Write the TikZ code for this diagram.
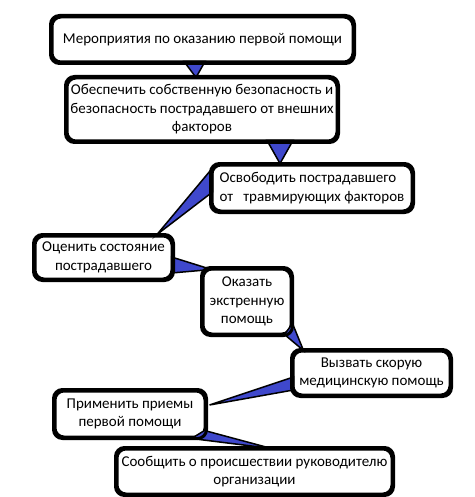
\documentclass[tikz,border=0pt]{standalone}
\usepackage{fontspec}
\setmainfont{Carlito}
\usetikzlibrary{calc}
\definecolor{wedgeblue}{HTML}{3F48CC}
\begin{document}
\begin{tikzpicture}[x=1pt,y=-1pt,
  box/.style={draw=black, line width=3pt, fill=white, rounded corners=9pt,
    inner sep=0pt, align=center, font=\fontsize{15}{18.5}\selectfont},
  wedge/.style={draw=black, line width=1.5pt, fill=wedgeblue, line join=miter}]
\useasboundingbox (0,0) rectangle (474,497);
\node[box, minimum width=301pt, minimum height=45pt] (b1) at (202.5,39.5) {Мероприятия по оказанию первой помощи};
\node[box, minimum width=270pt, minimum height=63pt] (b2) at (202,109.5) {Обеспечить собственную безопасность и\\безопасность пострадавшего от внешних\\факторов};
\node[box, minimum width=200pt, minimum height=46pt, align=left] (b3) at (312,188) {Освободить пострадавшего\\от\ \ \ травмирующих факторов};
\node[box, minimum width=137pt, minimum height=43pt] (b4) at (103.5,257.5) {Оценить состояние\\пострадавшего};
\node[box, minimum width=88pt, minimum height=65pt] (b5) at (247,301.5) {Оказать\\экстренную\\помощь};
\node[box, minimum width=157pt, minimum height=44pt] (b6) at (371.5,373) {Вызвать скорую\\медицинскую помощь};
\node[box, minimum width=150pt, minimum height=46pt] (b7) at (130,414) {Применить приемы\\первой помощи};
\node[box, minimum width=275pt, minimum height=45pt] (b8) at (254.5,471.5) {Сообщить о происшествии руководителю\\организации};
% wedge connectors
\draw[wedge] ($(b1.south)+(-18.5,-2)$) -- ($(b1.south)+(2.5,-2)$) -- ($(b2.north)+(-6,1)$) -- cycle;
\draw[wedge] ($(b2.south)+(65,-2)$) -- ($(b2.south)+(91,-2)$) -- ($(b3.north)+(-32,0)$) -- cycle;
\draw[wedge] ($(b3.west)+(2,-20)$) -- ($(b3.west)+(2,4)$) -- ($(b4.north)+(53.5,0)$) -- cycle;
\draw[wedge] ($(b4.east)+(-2,-0.5)$) -- ($(b4.east)+(-2,15.5)$) -- ($(b5.north west)+(10,2)$) -- cycle;
\draw[wedge] ($(b5.south east)+(-8,-1)$) -- ($(b5.south east)+(0,-12)$) -- ($(b6.north west)+(12,1)$) -- cycle;
\draw[wedge] ($(b6.west)+(2,4)$) -- ($(b6.west)+(2,17)$) -- ($(b7.east)+(3,-9)$) -- cycle;
\draw[wedge] ($(b7.south east)+(-2,-8)$) -- ($(b7.south east)+(-15,0)$) -- ($(b8.north)+(17,1)$) -- cycle;
% redraw box borders over wedge bases
\foreach \n in {b1,b2,b3,b4,b5,b6,b7,b8}{
  \draw[line width=3pt, rounded corners=9pt] (\n.north west) rectangle (\n.south east);
}
\end{tikzpicture}
\end{document}
